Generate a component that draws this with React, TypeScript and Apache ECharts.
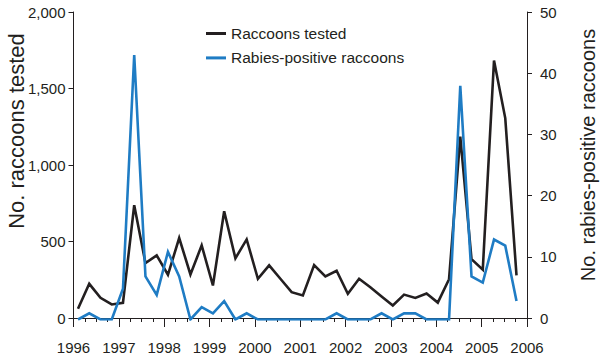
import React, { useEffect, useRef } from "react";
import * as echarts from "echarts";

// Quarterly periods, 1996 Q1 – 2005 Q4
const quarters: string[] = [
  "1996 Q1", "1996 Q2", "1996 Q3", "1996 Q4",
  "1997 Q1", "1997 Q2", "1997 Q3", "1997 Q4",
  "1998 Q1", "1998 Q2", "1998 Q3", "1998 Q4",
  "1999 Q1", "1999 Q2", "1999 Q3", "1999 Q4",
  "2000 Q1", "2000 Q2", "2000 Q3", "2000 Q4",
  "2001 Q1", "2001 Q2", "2001 Q3", "2001 Q4",
  "2002 Q1", "2002 Q2", "2002 Q3", "2002 Q4",
  "2003 Q1", "2003 Q2", "2003 Q3", "2003 Q4",
  "2004 Q1", "2004 Q2", "2004 Q3", "2004 Q4",
  "2005 Q1", "2005 Q2", "2005 Q3", "2005 Q4",
];

const raccoonsTested: number[] = [
  70, 232, 141, 98, 109, 743, 367, 417, 291, 530,
  293, 482, 221, 704, 398, 521, 265, 352, 265, 178,
  156, 354, 280, 317, 167, 265, 210, 150, 91, 162,
  140, 169, 110, 262, 1190, 392, 324, 1684, 1310, 287,
];

const rabiesPositive: number[] = [
  0, 1, 0, 0, 5, 43, 7, 4, 11, 7,
  0, 2, 1, 3, 0, 1, 0, 0, 0, 0,
  0, 0, 0, 1, 0, 0, 0, 1, 0, 1,
  1, 0, 0, 0, 38, 7, 6, 13, 12, 3,
];

const seriesNames = ["Raccoons tested", "Rabies-positive raccoons"];
const leftAxisTitle = "No. raccoons tested";
const rightAxisTitle = "No. rabies-positive raccoons";

const TEXT = "#231f20";
const BLACK = "#231f20";
const BLUE = "#1f7cc4";
const FONT = "Liberation Sans, Arial, Helvetica, sans-serif";

export default function App() {
  const ref = useRef<HTMLDivElement>(null);

  useEffect(() => {
    if (!ref.current) return;
    const chart = echarts.init(ref.current, undefined, { renderer: "svg" });

    const axisLine = { show: true, lineStyle: { color: TEXT, width: 1 } };

    chart.setOption({
      animation: false,
      backgroundColor: "#ffffff",
      textStyle: { fontFamily: FONT, color: TEXT },
      grid: [
        { left: 73.5, right: 73, top: 12, bottom: 35.5, containLabel: false },
        { left: 78, right: 83.5, top: 12, bottom: 35.5, containLabel: false },
      ],
      legend: {
        data: seriesNames,
        orient: "vertical",
        left: 201,
        top: 20.5,
        icon: "rect",
        itemWidth: 20,
        itemHeight: 3,
        itemGap: 8.4,
        textStyle: { fontFamily: FONT, fontSize: 15.5, color: TEXT, lineHeight: 15 },
      },
      xAxis: [
        {
          type: "value",
          gridIndex: 0,
          min: 1996,
          max: 2006,
          interval: 1,
          axisLine,
          axisTick: { show: true, inside: false, length: 9, lineStyle: { color: TEXT } },
          minorTick: { show: true, splitNumber: 4, length: 4, lineStyle: { color: TEXT } },
          axisLabel: {
            margin: 22,
            fontSize: 15,
            color: TEXT,
            fontFamily: FONT,
            formatter: (v: number) => String(v),
          },
          splitLine: { show: false },
        },
        {
          type: "category",
          gridIndex: 1,
          data: quarters,
          boundaryGap: false,
          show: false,
        },
      ],
      yAxis: [
        {
          type: "value",
          gridIndex: 0,
          position: "left",
          min: 0,
          max: 2000,
          interval: 500,
          axisLine,
          axisTick: { show: true, inside: false, length: 5, lineStyle: { color: TEXT } },
          axisLabel: {
            margin: 8,
            fontSize: 15,
            color: TEXT,
            fontFamily: FONT,
            formatter: (v: number) => v.toLocaleString("en-US"),
          },
          splitLine: { show: false },
        },
        {
          type: "value",
          gridIndex: 0,
          position: "right",
          min: 0,
          max: 50,
          interval: 10,
          axisLine,
          axisTick: { show: true, inside: false, length: 5, lineStyle: { color: TEXT } },
          axisLabel: { margin: 13, fontSize: 15, color: TEXT, fontFamily: FONT },
          splitLine: { show: false },
        },
        { type: "value", gridIndex: 1, min: 0, max: 2000, show: false },
        { type: "value", gridIndex: 1, min: 0, max: 50, show: false, position: "right" },
      ],
      series: [
        {
          name: seriesNames[0],
          type: "line",
          xAxisIndex: 1,
          yAxisIndex: 2,
          data: raccoonsTested,
          symbol: "none",
          lineStyle: { color: BLACK, width: 2.6, join: "miter" },
          itemStyle: { color: BLACK },
          z: 2,
        },
        {
          name: seriesNames[1],
          type: "line",
          xAxisIndex: 1,
          yAxisIndex: 3,
          data: rabiesPositive,
          symbol: "none",
          lineStyle: { color: BLUE, width: 2.6, join: "miter" },
          itemStyle: { color: BLUE },
          z: 3,
        },
      ],
      graphic: [
        {
          type: "text",
          x: 16,
          y: 131,
          rotation: Math.PI / 2,
          style: {
            text: leftAxisTitle,
            fontFamily: FONT,
            fontSize: 22,
            fill: TEXT,
            align: "center",
            verticalAlign: "middle",
          },
        },
        {
          type: "text",
          x: 588,
          y: 155,
          rotation: Math.PI / 2,
          style: {
            text: rightAxisTitle,
            fontFamily: FONT,
            fontSize: 20,
            fill: TEXT,
            align: "center",
            verticalAlign: "middle",
          },
        },
      ],
    });

    return () => chart.dispose();
  }, []);

  return <div ref={ref} style={{ width: 600, height: 355, position: "absolute", left: 0, top: 0 }} />;
}
